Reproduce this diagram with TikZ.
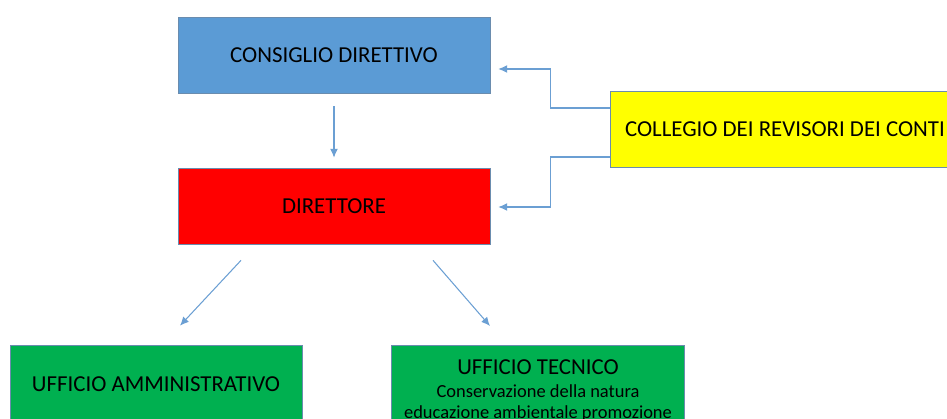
\documentclass[tikz,border=0pt]{standalone}
\usepackage{fontspec}
\setmainfont{Carlito}
\usetikzlibrary{calc,arrows.meta}
\definecolor{boxblue}{HTML}{5B9BD5}
\definecolor{boxred}{HTML}{FF0000}
\definecolor{boxyellow}{HTML}{FFFF00}
\definecolor{boxgreen}{HTML}{00B050}
\definecolor{boxline}{HTML}{6A8CAE}
\definecolor{linkblue}{HTML}{6B9FD3}

\begin{document}
\begin{tikzpicture}[x=0.02cm,y=-0.02cm,
  box/.style={draw=boxline, fill=#1, minimum width=6.24cm, minimum height=1.52cm,
    inner sep=0pt, font=\fontsize{13}{15}\selectfont},
  conn/.style={draw=linkblue, line width=0.6pt, -{Latex[length=5pt,width=4.5pt]}}]
\useasboundingbox (0,0) rectangle (947,419);
\clip (0,0) rectangle (947,419);
%Boxes
\node[box=boxblue] (consiglio) at (334,55) {CONSIGLIO DIRETTIVO};
\node[box=boxred] (direttore) at (334,206) {DIRETTORE};
\node[box=boxyellow, minimum width=7.0cm] (collegio) at (785,129) {COLLEGIO DEI REVISORI DEI CONTI};
\node[box=boxgreen, minimum width=5.84cm, minimum height=1.56cm] (amministrativo) at (156,384) {UFFICIO AMMINISTRATIVO};
\node[box=boxgreen, minimum width=5.86cm, anchor=north, align=center, inner ysep=0.28cm] (tecnico) at (538,345)
  {UFFICIO TECNICO\\[-2pt]
   {\fontsize{10.5}{12.5}\selectfont Conservazione della natura}\\[-3pt]
   {\fontsize{10.5}{12.5}\selectfont educazione ambientale promozione}\\
   {\fontsize{10.5}{12.5}\selectfont \strut}};
%Connectors
\draw[conn, shorten <=0.26cm, shorten >=0.2cm] (consiglio) -- (direttore);
\draw[conn] ($(collegio.west)+(0,-21)$) -- ++(-59,0) |- ($(consiglio.east)+(8,14)$);
\draw[conn] ($(collegio.west)+(0,28)$) -- ++(-59,0) |- ($(direttore.east)+(8,1)$);
\draw[conn] ($(direttore.south)+(-93,16)$) -- ($(amministrativo.north)+(24,-19)$);
\draw[conn] ($(direttore.south)+(99,16)$) -- ($(tecnico.north)+(-48,-19)$);
\end{tikzpicture}
\end{document}
